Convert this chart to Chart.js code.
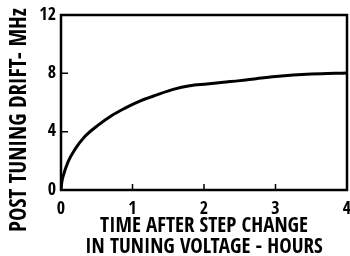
<!DOCTYPE html>
<html>
<head>
<meta charset="utf-8">
<script src="https://cdn.jsdelivr.net/npm/chart.js@4/dist/chart.umd.min.js"></script>
<style>
  html, body { margin: 0; padding: 0; background: #fff; }
  #wrap { width: 350px; height: 256px; }
</style>
</head>
<body>
<div id="wrap"><canvas id="myChart"></canvas></div>
<script>
var hours = [0, 0.01, 0.03, 0.1, 0.19, 0.33, 0.52, 0.7, 0.89, 1.08, 1.34, 1.57, 1.8, 2.04, 2.27, 2.5, 2.75, 3.0, 3.5, 4.0];
var driftMHz = [0, 0.5, 0.95, 1.95, 2.75, 3.65, 4.45, 5.08, 5.6, 6.05, 6.52, 6.9, 7.15, 7.27, 7.39, 7.5, 7.65, 7.78, 7.95, 8.03];
var xTicks = [0, 1, 2, 3, 4];
var yTicks = [0, 4, 8, 12];
var yTitle = 'POST TUNING DRIFT- MHz';
var xTitle = ['TIME AFTER STEP CHANGE', 'IN TUNING VOLTAGE - HOURS'];

var FONT = "'Open Sans Condensed', 'DejaVu Sans Condensed', sans-serif";

// box round the plot, inward tick marks, rotated y title
var frame = {
  id: 'frame',
  afterDraw(chart) {
    var c = chart.ctx, a = chart.chartArea;
    var xs = chart.scales.x, ys = chart.scales.y;
    c.save();
    c.strokeStyle = '#000';
    c.lineWidth = 2.5;
    c.strokeRect(a.left, a.top, a.right - a.left, a.bottom - a.top);
    c.lineWidth = 1.5;
    c.beginPath();
    xTicks.slice(1, -1).forEach(function (v) {
      var px = xs.getPixelForValue(v);
      c.moveTo(px, a.bottom);
      c.lineTo(px, a.bottom - 6);
    });
    yTicks.slice(1, -1).forEach(function (v) {
      var py = ys.getPixelForValue(v);
      c.moveTo(a.left, py);
      c.lineTo(a.left + 7, py);
    });
    c.stroke();

    c.fillStyle = '#000';
    c.font = 'bold 22.5px ' + FONT;
    c.textAlign = 'center';
    c.textBaseline = 'middle';
    c.translate(20, 120);
    c.rotate(-Math.PI / 2);
    c.fillText(yTitle, 0, 0);
    c.restore();
  }
};

var ctx = document.getElementById('myChart').getContext('2d');
var myChart = new Chart(ctx, {
  type: 'line',
  data: {
    datasets: [{
      data: hours.map((h, i) => ({ x: h, y: driftMHz[i] })),
      borderColor: '#000',
      borderWidth: 3,
      pointRadius: 0,
      fill: false,
      cubicInterpolationMode: 'monotone'
    }]
  },
  options: {
    responsive: true,
    maintainAspectRatio: false,
    animation: false,
    layout: { padding: { left: 0, right: 3, top: 15, bottom: 0 } },
    plugins: { legend: { display: false }, tooltip: { enabled: false } },
    scales: {
      x: {
        type: 'linear',
        min: 0, max: 4,
        afterBuildTicks: s => { s.ticks = xTicks.map(v => ({ value: v })); },
        afterFit: s => { s.height = 66; s.paddingLeft = 0; s.paddingRight = 0; },
        grid: { display: false },
        border: { display: false },
        ticks: { color: '#000', padding: 0, font: { family: FONT, size: 18, weight: 'bold' } },
        title: {
          display: true,
          text: xTitle,
          color: '#000',
          padding: { top: 0, bottom: -2 },
          font: { family: FONT, size: 21, weight: 'bold', lineHeight: 1.0 }
        }
      },
      y: {
        min: 0, max: 12,
        afterBuildTicks: s => { s.ticks = yTicks.map(v => ({ value: v })); },
        afterFit: s => { s.width = 61; s.paddingTop = 0; s.paddingBottom = 0; },
        grid: { display: false },
        border: { display: false },
        ticks: { color: '#000', padding: -3, font: { family: FONT, size: 18, weight: 'bold' } }
      }
    }
  },
  plugins: [frame]
});
</script>
</body>
</html>
